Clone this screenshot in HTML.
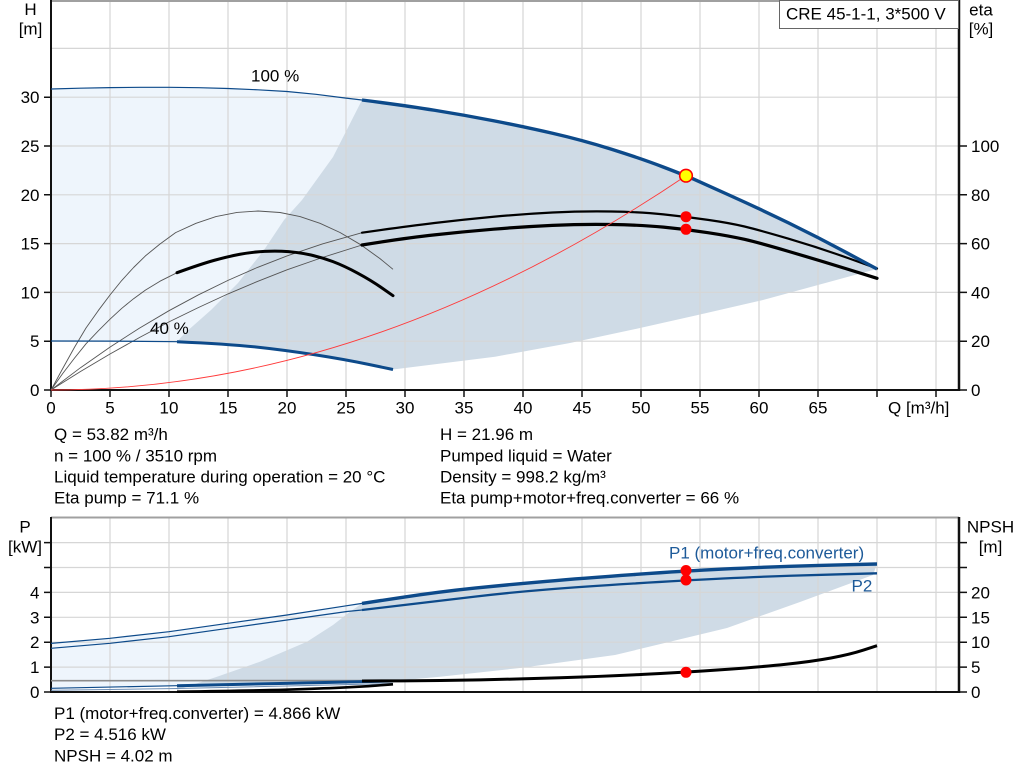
<!DOCTYPE html>
<html>
<head>
<meta charset="utf-8">
<style>
html,body{margin:0;padding:0;background:#fff;}
svg{display:block;}
text{font-family:"Liberation Sans",Arial,sans-serif;font-size:17px;fill:#000;}
</style>
</head>
<body>
<svg width="1024" height="781" viewBox="0 0 1024 781" xmlns="http://www.w3.org/2000/svg">
<rect x="0" y="0" width="1024" height="781" fill="#fff"/>

<!-- ===== TOP CHART ===== -->
<path d="M51,89 L80,88.2 L110,87.6 L140,87.3 L169,87.3 L199,87.7 L228,88.5 L258,89.8 L287,91.5 L316,94.3 L345,98 L362,100 L393,369.5 L344,359.3 L284,350 L228,344 L177,341.7 L51,341 Z" fill="#eef5fc"/>
<path d="M177,341.7 L185,333 L211,310 L238,283 L264,250 L284,220 L302,200 L333,157 L362,100 Q405,105.5 434.5,110.25 Q464,115 493.5,120.75 Q523,126.5 552.5,133.25 Q582,140 611.5,149.25 Q641,158.5 663.5,167.1 Q686,175.7 693,178.85 Q700,182 729.5,195.25 Q759,208.5 788.5,222.9 Q818,237.3 847.5,253.15 L877,269 L862,273 L763,300 L700,314.5 L640,328 L570,343 L495,356.7 L393,369.5 L344,359.3 L284,350 L228,344 Z" fill="#cfdbe6"/>

<g stroke="#d6d6d6" stroke-width="1.2" fill="none">
<path d="M110,0V390M169,0V390M228,0V390M287,0V390M346,0V390M405,0V390M464,0V390M523,0V390M582,0V390M641,0V390M700,0V390M759,0V390M818,0V390M877,0V390M936,0V390"/>
<path d="M51,341.2H959M51,292.4H959M51,243.6H959M51,194.8H959M51,146H959M51,97.2H959M51,48.4H959"/>
</g>
<line x1="51" y1="1" x2="959" y2="1" stroke="#a0a0a0" stroke-width="2"/>

<g stroke="#111" fill="none">
<line x1="51" y1="0" x2="51" y2="391" stroke-width="2"/>
<line x1="50" y1="390" x2="960" y2="390" stroke-width="2"/>
<line x1="959" y1="0" x2="959" y2="391" stroke-width="2.5"/>
<path stroke-width="1.5" d="M44,390H51M44,341.2H51M44,292.4H51M44,243.6H51M44,194.8H51M44,146H51M44,97.2H51"/>
<path stroke-width="1.5" d="M959,390H967M959,341.2H967M959,292.4H967M959,243.6H967M959,194.8H967M959,146H967"/>
<path stroke-width="1.5" d="M51,390V397M110,390V397M169,390V397M228,390V397M287,390V397M346,390V397M405,390V397M464,390V397M523,390V397M582,390V397M641,390V397M700,390V397M759,390V397M818,390V397M877,390V397M936,390V397"/>
</g>

<g text-anchor="end">
<text x="39.5" y="396">0</text>
<text x="39.5" y="347.2">5</text>
<text x="39.5" y="298.4">10</text>
<text x="39.5" y="249.6">15</text>
<text x="39.5" y="200.8">20</text>
<text x="39.5" y="152">25</text>
<text x="39.5" y="103.2">30</text>
</g>
<g>
<text x="971" y="396">0</text>
<text x="971" y="347.2">20</text>
<text x="971" y="298.4">40</text>
<text x="971" y="249.6">60</text>
<text x="971" y="200.8">80</text>
<text x="971" y="152">100</text>
</g>
<g text-anchor="middle">
<text x="51" y="413.5">0</text>
<text x="110" y="413.5">5</text>
<text x="169" y="413.5">10</text>
<text x="228" y="413.5">15</text>
<text x="287" y="413.5">20</text>
<text x="346" y="413.5">25</text>
<text x="405" y="413.5">30</text>
<text x="464" y="413.5">35</text>
<text x="523" y="413.5">40</text>
<text x="582" y="413.5">45</text>
<text x="641" y="413.5">50</text>
<text x="700" y="413.5">55</text>
<text x="759" y="413.5">60</text>
<text x="818" y="413.5">65</text>
</g>
<text x="888" y="413.5">Q [m³/h]</text>

<text x="30.5" y="15" text-anchor="middle">H</text>
<text x="30.5" y="34.5" text-anchor="middle">[m]</text>
<text x="981" y="15.5" text-anchor="middle">eta</text>
<text x="981" y="34.5" text-anchor="middle">[%]</text>

<rect x="779.5" y="0.5" width="179" height="28" fill="#fff" stroke="#666" stroke-width="1"/>
<text x="786" y="19.5">CRE 45-1-1, 3*500 V</text>

<g fill="none" stroke="#555" stroke-width="0.9" stroke-linejoin="round">
<path d="M51,390 L80.5,367.7 L110,347.1 L139.5,328.1 L169,310.7 L198.5,294.8 L228,280.4 L257.5,267.4 L287,255.9 L322.4,243.9 L362,232.7"/>
<path d="M51,390 L80.5,371.5 L110,354 L139.5,337.5 L169,321.9 L198.5,307.5 L228,293.9 L257.5,281.4 L287,269.8 L322.4,257.5 L362,245"/>
<path d="M51,390 L63,368 L74.6,347.1 L86,328 L98.2,310.7 L110,295 L121.8,280.4 L133.6,267.5 L145.4,255.9 L160,244 L175.6,232.6 L196,223.3 L216,216.6 L237,212.4 L258,211 L280,212.5 L300,216.6 L320,223.3 L340,232.5 L360,244.3 L380,258.6 L393,269.3"/>
<path d="M51,390 L63,373.1 L74.6,358 L86,343.8 L98.2,330.9 L110,319.2 L121.8,308.3 L133.6,298.7 L145.4,290.1 L160,281.2 L177,272.7"/>
</g>
<g fill="none" stroke="#000" stroke-linejoin="round" stroke-linecap="round">
<path stroke-width="2.2" d="M362,232.7 Q405,226.5 434.5,223 Q464,219.5 493.5,216.75 Q523,214 552.5,212.5 Q582,211 611.5,211.5 Q641,212 663.5,214.35 Q686,216.7 708,219.85 Q730,223 744.5,226.5 Q759,230 788.5,238.65 Q818,247.3 847.5,257.9 L877,268.5"/>
<path stroke-width="3.2" d="M362,245 Q405,238 434.5,234.85 Q464,231.7 493.5,229.2 Q523,226.7 552.5,225.35 Q582,224 611.5,224.5 Q641,225 663.5,227.15 Q686,229.3 708,232.65 Q730,236 744.5,239.35 Q759,242.7 788.5,251.35 Q818,260 847.5,269.15 L877,278.3"/>
<path stroke-width="3" d="M177,272.7 Q201,264 214.5,260.25 Q228,256.5 240,254.25 Q252,252 264.5,251.35 Q277,250.7 288.5,251.6 Q300,252.5 311,255 Q322,257.5 333,261.65 Q344,265.8 357.5,273.05 Q371,280.3 382,288 L393,295.7"/>
</g>

<g fill="none" stroke="#0d4a8a" stroke-linejoin="round">
<path stroke-width="1.2" d="M51,89 L80,88.2 L110,87.6 L140,87.3 L169,87.3 L199,87.7 L228,88.5 L258,89.8 L287,91.5 L316,94.3 L345,98 L362,100"/>
<path stroke-width="3.4" d="M362,100 Q405,105.5 434.5,110.25 Q464,115 493.5,120.75 Q523,126.5 552.5,133.25 Q582,140 611.5,149.25 Q641,158.5 663.5,167.1 Q686,175.7 693,178.85 Q700,182 729.5,195.25 Q759,208.5 788.5,222.9 Q818,237.3 847.5,253.15 L877,269"/>
<path stroke-width="1.2" d="M51,341 L110,341.1 L177,341.7"/>
<path stroke-width="3" d="M177,341.7 Q228,344 256,347 Q284,350 314,354.65 Q344,359.3 368.5,364.4 L393,369.5"/>
</g>

<text x="251" y="81.7">100 %</text>
<text x="150" y="334">40 %</text>

<path d="M51,390 Q368.5,390 686,175.7" fill="none" stroke="#ff3a3a" stroke-width="0.9"/>

<circle cx="686" cy="216.7" r="5.5" fill="#ff0000"/>
<circle cx="686" cy="229.3" r="5.5" fill="#ff0000"/>
<circle cx="686" cy="175.7" r="6.3" fill="#ffff00" stroke="#ff0000" stroke-width="1.6"/>

<!-- ===== INFO TEXT ===== -->
<text x="54" y="440">Q = 53.82 m³/h</text>
<text x="54" y="461.3">n = 100 % / 3510 rpm</text>
<text x="54" y="482.3">Liquid temperature during operation = 20 °C</text>
<text x="54" y="503.3">Eta pump = 71.1 %</text>
<text x="440" y="440">H = 21.96 m</text>
<text x="440" y="461.3">Pumped liquid = Water</text>
<text x="440" y="482.3">Density = 998.2 kg/m³</text>
<text x="440" y="503.3">Eta pump+motor+freq.converter = 66 %</text>

<!-- ===== BOTTOM CHART ===== -->
<path d="M51,643.4 L110,638.3 L169,631.7 L228,623.3 L287,615 L347,605.7 L362,603.4 L393,681 L177,685.7 L51,688.3 Z" fill="#eef5fc"/>
<path d="M177,690 L217,676.7 L260,661.7 L307,641.7 L333,625 L350,611.7 L362,603.4 L401,597.55 Q440,591.7 475,588.1 Q510,584.5 545.75,581.4 Q581.5,578.3 633.75,574.55 Q686,570.8 723,569.05 Q760,567.3 790,566.3 Q820,565.3 848.5,564.65 L877,564 L873,575 L800,602 L727,628 L615,655 L520,668 L440,676.7 L393,681 L280,683.5 L177,685.7 Z" fill="#cfdbe6"/>

<g stroke="#d6d6d6" stroke-width="1.2" fill="none">
<path d="M110,517V692M169,517V692M228,517V692M287,517V692M346,517V692M405,517V692M464,517V692M523,517V692M582,517V692M641,517V692M700,517V692M759,517V692M818,517V692M877,517V692M936,517V692"/>
<path d="M51,667.1H959M51,642.2H959M51,617.3H959M51,592.4H959M51,567.5H959M51,542.6H959"/>
</g>
<line x1="51" y1="517.5" x2="959" y2="517.5" stroke="#a0a0a0" stroke-width="2"/>

<g stroke="#111" fill="none">
<line x1="51" y1="517" x2="51" y2="693" stroke-width="2"/>
<line x1="50" y1="692" x2="960" y2="692" stroke-width="2"/>
<line x1="959" y1="517" x2="959" y2="693" stroke-width="2.5"/>
<path stroke-width="1.5" d="M44,692H51M44,667.1H51M44,642.2H51M44,617.3H51M44,592.4H51M44,567.5H51M44,542.6H51"/>
<path stroke-width="1.5" d="M959,692H967M959,667.1H967M959,642.2H967M959,617.3H967M959,592.4H967M959,567.5H967M959,542.6H967"/>
</g>

<g text-anchor="end">
<text x="39.5" y="698">0</text>
<text x="39.5" y="673.1">1</text>
<text x="39.5" y="648.2">2</text>
<text x="39.5" y="623.3">3</text>
<text x="39.5" y="598.4">4</text>
</g>
<g>
<text x="971" y="698">0</text>
<text x="971" y="673.1">5</text>
<text x="971" y="648.2">10</text>
<text x="971" y="623.3">15</text>
<text x="971" y="598.4">20</text>
</g>
<text x="25" y="532.7" text-anchor="middle">P</text>
<text x="25" y="552.5" text-anchor="middle">[kW]</text>
<text x="990.5" y="532.7" text-anchor="middle">NPSH</text>
<text x="990.5" y="552.5" text-anchor="middle">[m]</text>

<g fill="none" stroke-linejoin="round">
<path stroke="#8c8c8c" stroke-width="1.6" d="M51,680.7 L362,680.5"/>
<path stroke="#6f8fb5" stroke-width="1" d="M51,690.3 L177,688.5 L393,683.5"/>
<path stroke="#0d4a8a" stroke-width="1.2" d="M51,688.3 L177,685.7"/>
<path stroke="#0d4a8a" stroke-width="3" d="M177,685.7 L280,683.5 L393,681"/>
<path stroke="#000" stroke-width="2.6" d="M177,691.7 Q260,690.5 290,689.55 Q320,688.6 340,687.7 Q360,686.8 376.5,685.55 L393,684.3"/>
<path stroke="#000" stroke-width="3" d="M362,681 L401,680.85 Q440,680.7 480,679.85 Q520,679 560,677.75 Q600,676.5 643,674.4 Q686,672.3 723,669.65 Q760,667 786,664.25 Q812,661.5 831,658 Q850,654.5 863.5,650.1 L877,645.7"/>
<path stroke="#0d4a8a" stroke-width="1.2" d="M51,643.4 L110,638.3 L169,631.7 L228,623.3 L287,615 L347,605.7 L362,603.4"/>
<path stroke="#0d4a8a" stroke-width="3.4" d="M362,603.4 L401,597.55 Q440,591.7 475,588.1 Q510,584.5 545.75,581.4 Q581.5,578.3 633.75,574.55 Q686,570.8 723,569.05 Q760,567.3 790,566.3 Q820,565.3 848.5,564.65 L877,564"/>
<path stroke="#0d4a8a" stroke-width="1.2" d="M51,648.3 L110,643.3 L169,636.7 L228,628.3 L287,620 L347,611.5 L362,610"/>
<path stroke="#0d4a8a" stroke-width="2.3" d="M362,610 L401,605.35 Q440,600.7 475,596.6 Q510,592.5 545.75,589.6 Q581.5,586.7 633.75,583.5 Q686,580.3 723,578.5 Q760,576.7 790,575.75 Q820,574.8 848.5,574.05 L877,573.3"/>
</g>

<text x="669" y="558.3" style="fill:#1d5a99">P1 (motor+freq.converter)</text>
<text x="851.5" y="591.7" style="fill:#1d5a99">P2</text>

<circle cx="686" cy="570.5" r="5.5" fill="#ff0000"/>
<circle cx="686" cy="580" r="5.5" fill="#ff0000"/>
<circle cx="686" cy="672.3" r="5.5" fill="#ff0000"/>

<text x="54" y="719">P1 (motor+freq.converter) = 4.866 kW</text>
<text x="54" y="740">P2 = 4.516 kW</text>
<text x="54" y="761.5">NPSH = 4.02 m</text>
</svg>
</body>
</html>
